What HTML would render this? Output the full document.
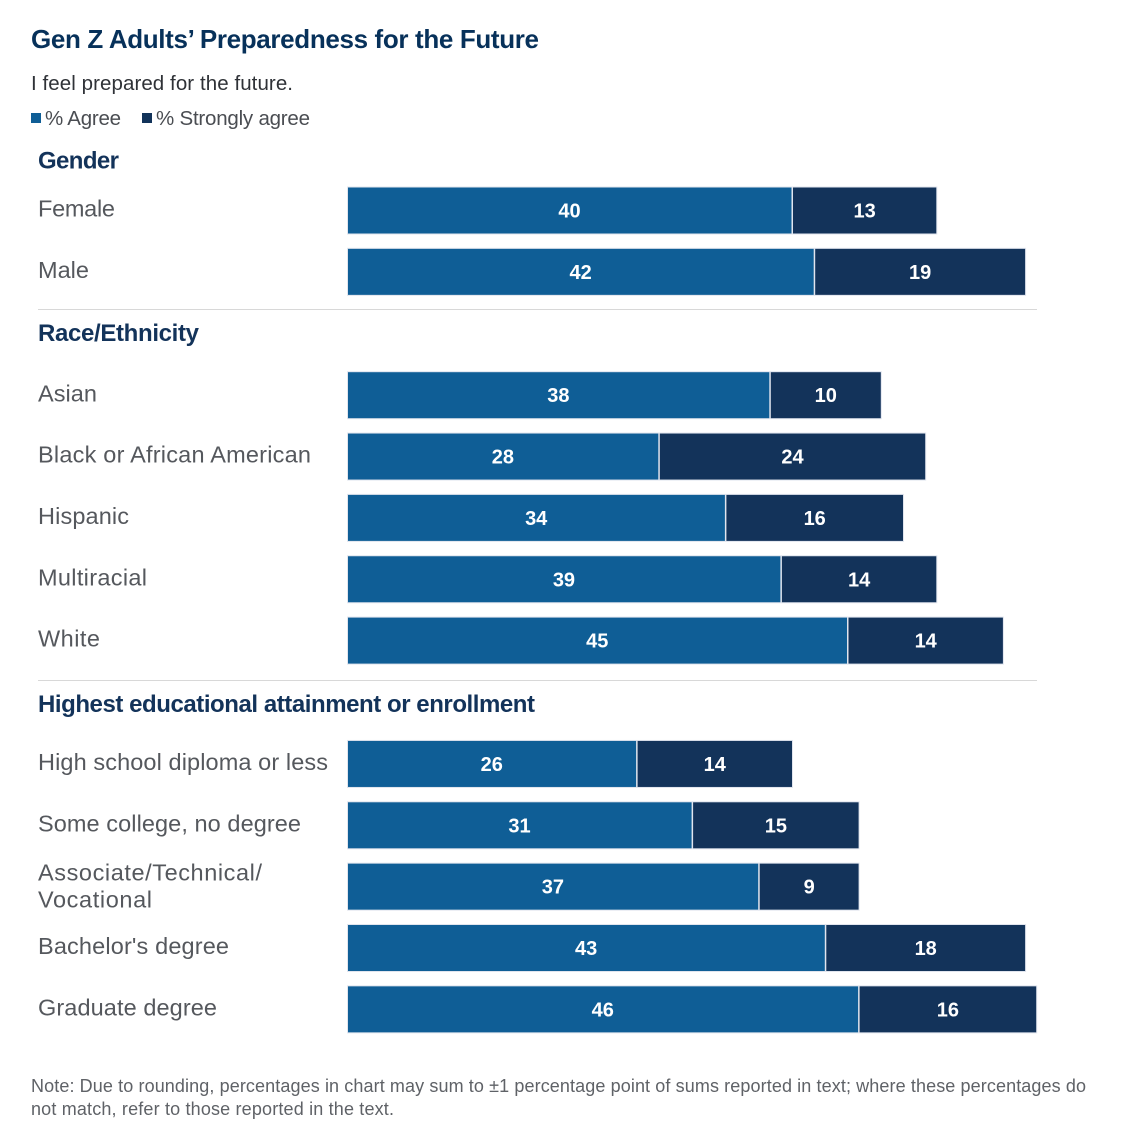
<!DOCTYPE html>
<html>
<head>
<meta charset="utf-8">
<style>
html,body{margin:0;padding:0;background:#fff;}
svg{display:block;font-family:"Liberation Sans",sans-serif;}
</style>
</head>
<body>
<svg id="chart" width="1138" height="1148" viewBox="0 0 1138 1148" xmlns="http://www.w3.org/2000/svg">
  <rect x="0" y="0" width="1138" height="1148" fill="#ffffff"/>
  <text x="31" y="48" font-size="26" font-weight="700" fill="#07315a" textLength="508" lengthAdjust="spacing">Gen Z Adults’ Preparedness for the Future</text>
  <text x="31" y="90" font-size="20.5" fill="#2f3237" textLength="262" lengthAdjust="spacing">I feel prepared for the future.</text>
  <rect x="31" y="113" width="10" height="10" fill="#0f5e96"/>
  <text x="45" y="125" font-size="20.5" fill="#4a4d52" textLength="76" lengthAdjust="spacing">% Agree</text>
  <rect x="142" y="113" width="10" height="10" fill="#12335a"/>
  <text x="156" y="125" font-size="20.5" fill="#4a4d52" textLength="154" lengthAdjust="spacing">% Strongly agree</text>
  <text x="38" y="168.5" font-size="24" font-weight="700" fill="#13335a" textLength="81" lengthAdjust="spacing">Gender</text>
  <text x="38" y="341" font-size="24" font-weight="700" fill="#13335a" textLength="161" lengthAdjust="spacing">Race/Ethnicity</text>
  <text x="38" y="712" font-size="24" font-weight="700" fill="#13335a" textLength="497" lengthAdjust="spacing">Highest educational attainment or enrollment</text>
  <line x1="38" x2="1037" y1="309.5" y2="309.5" stroke="#d8d8d8" stroke-width="1"/>
  <line x1="38" x2="1037" y1="680.5" y2="680.5" stroke="#d8d8d8" stroke-width="1"/>
  <g id="marks"></g>
  <text x="31" y="1092" font-size="18" fill="#5f6267" textLength="1055" lengthAdjust="spacing">Note: Due to rounding, percentages in chart may sum to ±1 percentage point of sums reported in text; where these percentages do</text>
  <text x="31" y="1115" font-size="18" fill="#5f6267" textLength="363" lengthAdjust="spacing">not match, refer to those reported in the text.</text>
</svg>
<script>
var categories = ["Female","Male","Asian","Black or African American","Hispanic","Multiracial","White","High school diploma or less","Some college, no degree","Associate/Technical/|Vocational","Bachelor's degree","Graduate degree"];
var agreeValues = [40,42,38,28,34,39,45,26,31,37,43,46];
var stronglyAgreeValues = [13,19,10,24,16,14,14,14,15,9,18,16];
var labelWidths = [77,51,59,273,91,109,62,290,263,224,191,179];

var svgNS = "http://www.w3.org/2000/svg";
var marks = document.getElementById("marks");

function xScale(v) { return 347.5 + v * 11.1; }
function yScale(i) {
  var gap = i < 2 ? 0 : (i < 7 ? 62 : 124);
  return 187 + i * 61.35 + gap;
}
function make(tag, attrs) {
  var el = document.createElementNS(svgNS, tag);
  for (var k in attrs) el.setAttribute(k, attrs[k]);
  marks.appendChild(el);
  return el;
}
function slug(s) { return s.toLowerCase().replace(/[^a-z0-9]+/g, "-").replace(/^-|-$/g, ""); }

categories.forEach(function (cat, i) {
  var top = yScale(i);
  var h = 47;
  var x0 = xScale(0), x1 = xScale(agreeValues[i]), x2 = xScale(agreeValues[i] + stronglyAgreeValues[i]);
  var name = slug(cat);

  var a = make("rect", {x: x0, y: top, width: x1 - x0 + 0.5, height: h, fill: "#0f5e96", stroke: "#e1e5ee", "stroke-width": 1});
  
  
  var b = make("rect", {x: x1 + 1, y: top, width: x2 - x1, height: h, fill: "#13335a", stroke: "#e1e5ee", "stroke-width": 1});
  
  

  var ta = make("text", {x: (x0 + x1) / 2, y: top + 30.5, "text-anchor": "middle", "font-size": 20, "font-weight": 700, fill: "#ffffff"});
  ta.textContent = agreeValues[i];
  
  
  var tb = make("text", {x: (x1 + x2) / 2 + 1, y: top + 30.5, "text-anchor": "middle", "font-size": 20, "font-weight": 700, fill: "#ffffff"});
  tb.textContent = stronglyAgreeValues[i];
  
  

  var parts = cat.split("|");
  if (parts.length === 2) {
    var l1 = make("text", {x: 38, y: top + 17.3, "font-size": 23.5, fill: "#55585d", textLength: 224, lengthAdjust: "spacing"});
    l1.textContent = parts[0];
    
    
    var l2 = make("text", {x: 38, y: top + 44.3, "font-size": 23.5, fill: "#55585d", textLength: 114, lengthAdjust: "spacing"});
    l2.textContent = parts[1];
    
    
  } else {
    var l = make("text", {x: 38, y: top + 29.6, "font-size": 23.5, fill: "#55585d", textLength: labelWidths[i], lengthAdjust: "spacing"});
    l.textContent = cat;
    
    
  }
});
</script>
</body>
</html>
